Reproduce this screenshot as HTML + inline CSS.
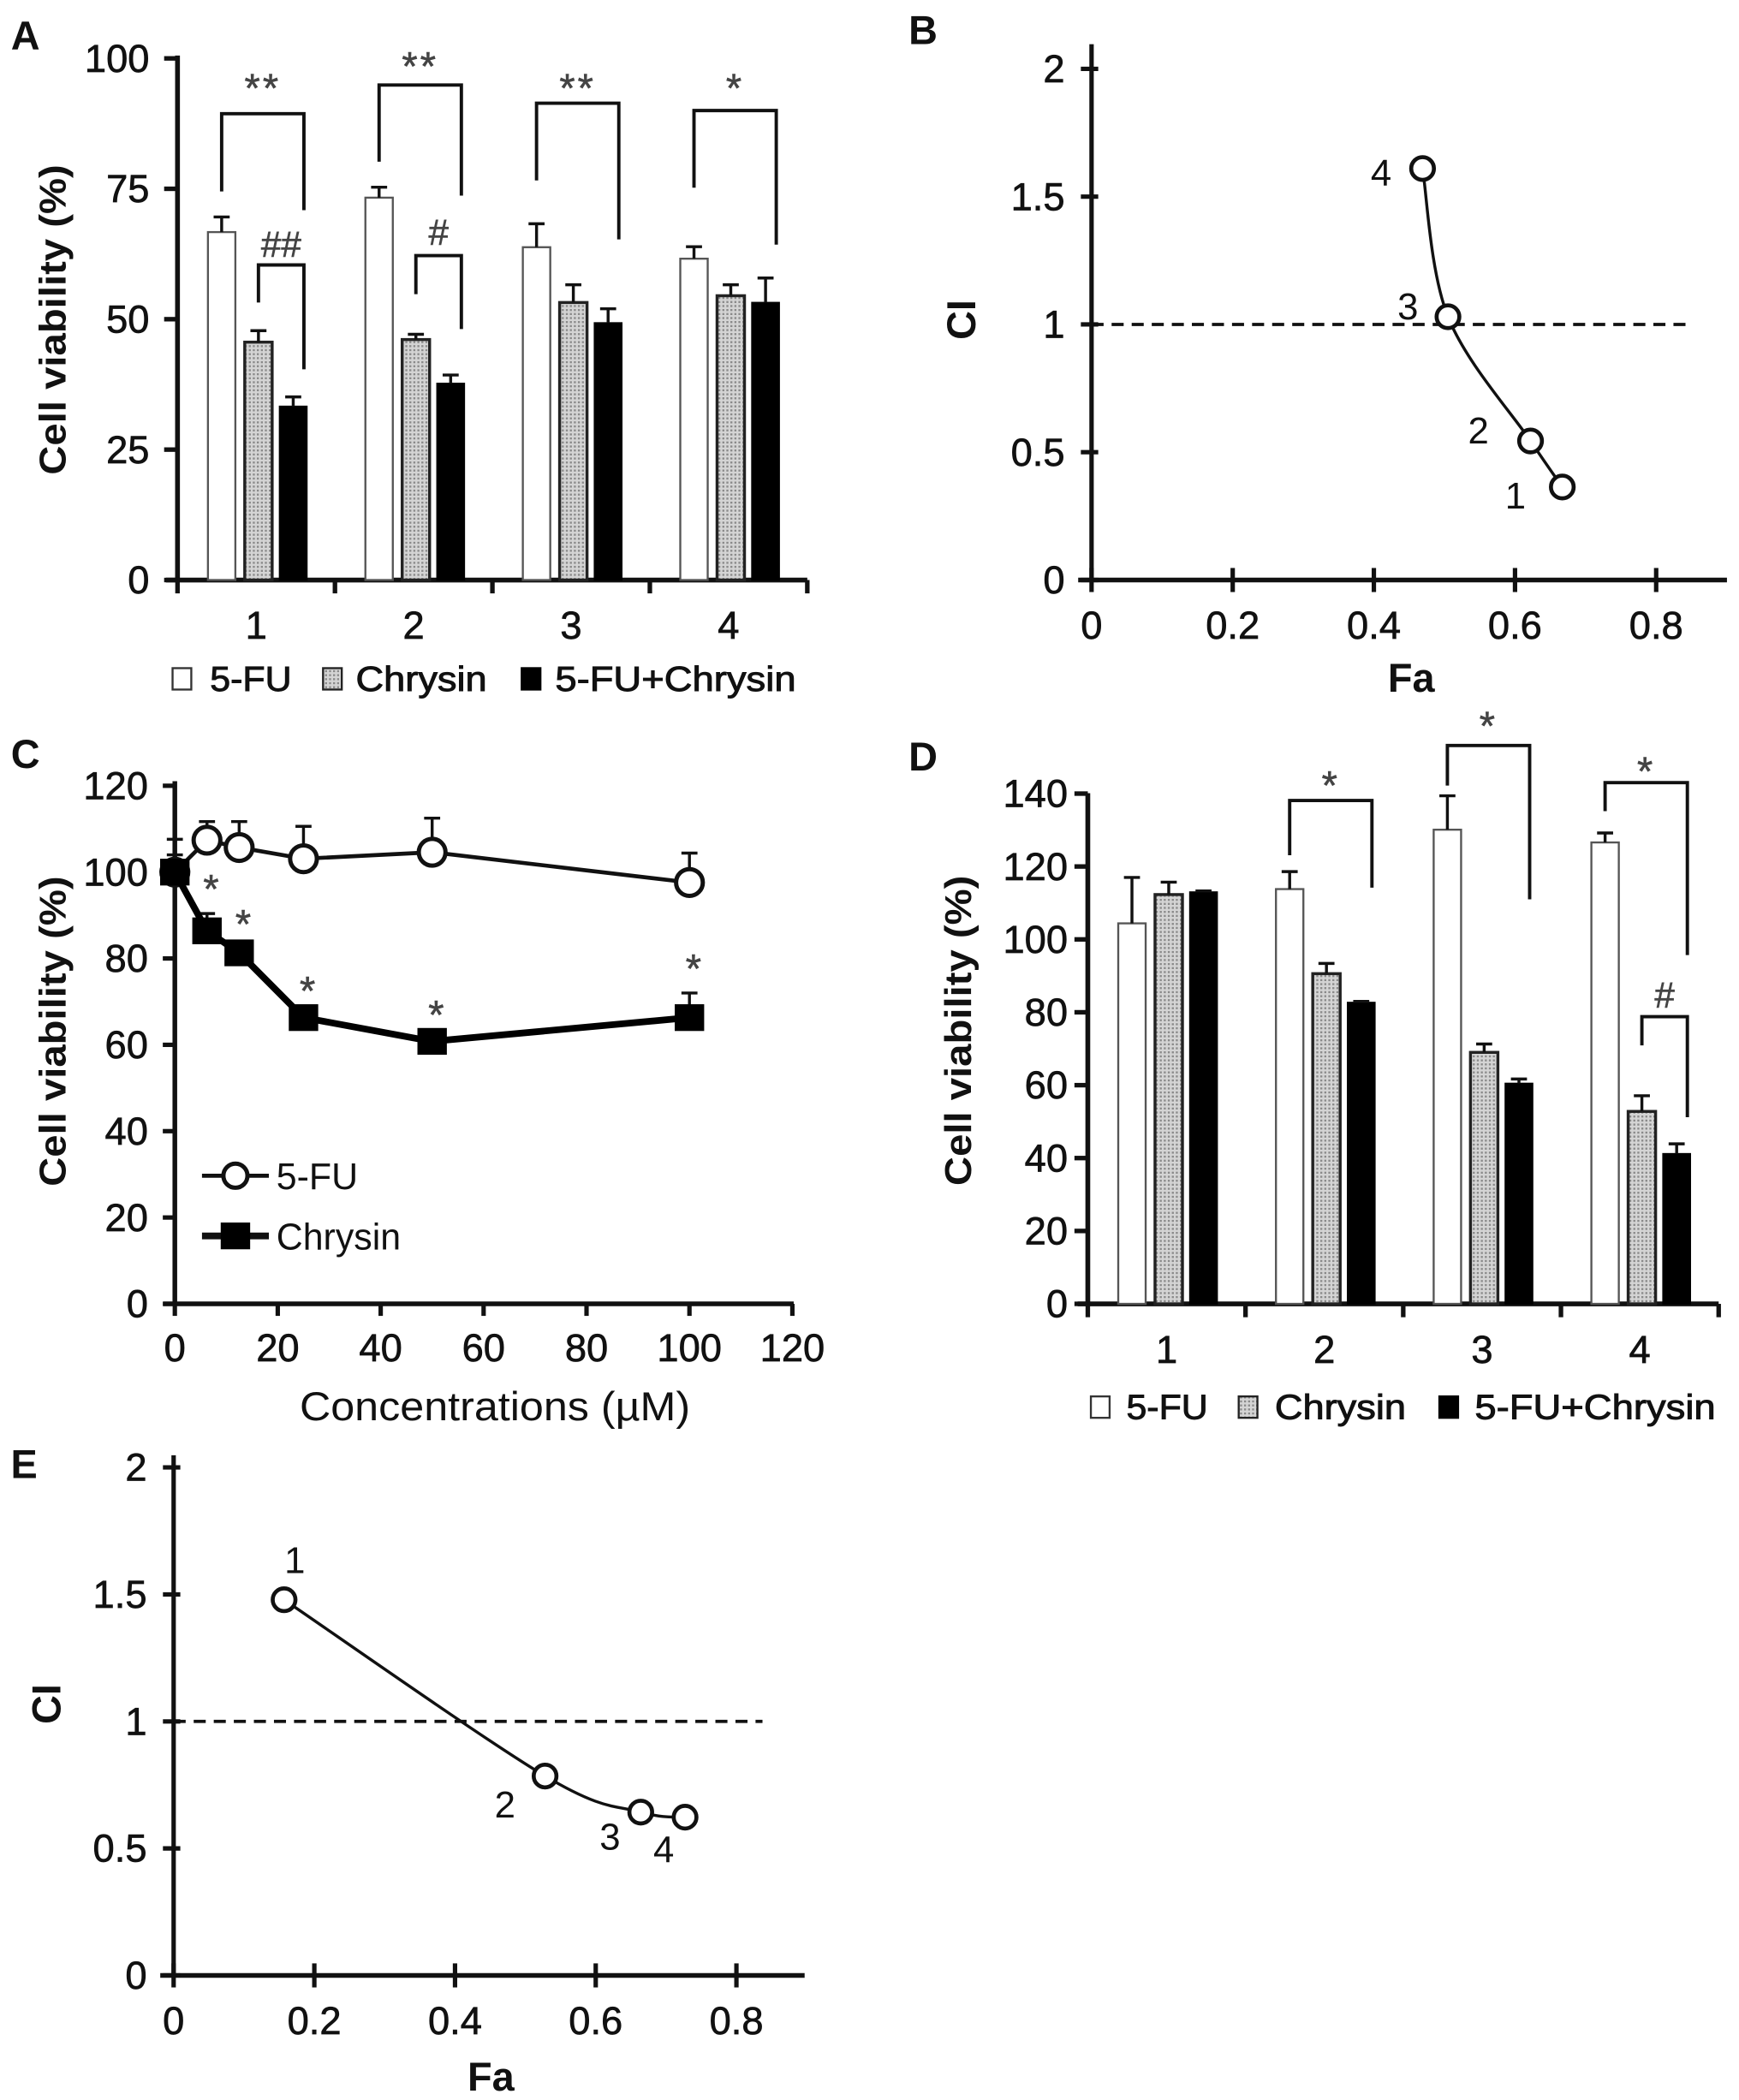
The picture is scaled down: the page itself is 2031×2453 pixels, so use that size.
<!DOCTYPE html>
<html><head><meta charset="utf-8">
<style>
html,body{margin:0;padding:0;background:#fff}
svg{display:block}
text{font-family:"Liberation Sans",Arial,sans-serif;fill:#111}
</style></head>
<body>
<svg id="fig" width="2031" height="2453" viewBox="0 0 1300 1570">
<defs>
<pattern id="dots" width="3" height="3" patternUnits="userSpaceOnUse"><rect width="3" height="3" fill="#d4d4d4"/><rect width="1.5" height="1.5" fill="#8a8a8a"/></pattern>
</defs>
</svg>
<script>
// ---------- Panel A data ----------
const A_groups=['1','2','3','4'];
const A_fu=[66.7,73.3,63.8,61.6];
const A_fu_err=[2.9,2.0,4.5,2.3];
const A_chr=[45.6,46.1,53.2,54.5];
const A_chr_err=[2.2,1.0,3.4,2.1];
const A_combo=[33.3,37.7,49.3,53.2];
const A_combo_err=[1.8,1.6,2.7,4.7];
const A_yticks=[0,25,50,75,100];
const A_br_group=[0,0,1,1,2,3];
const A_br_from=[0,1,0,1,0,0];
const A_br_top=[89.4,60.4,94.9,62.2,91.4,90];
const A_br_left=[74.5,53.2,80.2,54.8,76.6,75.2];
const A_br_right=[70.9,40.4,73.7,48.1,65.3,64.3];
const A_br_label=['**','##','**','#','**','*'];
const A_br_labelv=[96,64.5,100.2,66.8,96,96];

// ---------- Panel B data ----------
const B_fa=[0.667,0.622,0.505,0.469];
const B_ci=[0.364,0.544,1.03,1.61];
const B_pts=['1','2','3','4'];
const B_xticks=[0,0.2,0.4,0.6,0.8];
const B_yticks=[0,0.5,1,1.5,2];

// ---------- Panel C data ----------
const C_conc=[0,6.25,12.5,25,50,100];
const C_fu=[100,107.4,105.7,103.1,104.6,97.6];
const C_fu_err=[7.6,4.3,6,7.5,7.9,6.8];
const C_chr=[100,86.4,81.3,66.3,60.8,66.3];
const C_chr_err=[4,4,1,0.5,0.5,5.7];
const C_sig=[false,true,true,true,true,true];
const C_xticks=[0,20,40,60,80,100,120];
const C_yticks=[0,20,40,60,80,100,120];

// ---------- Panel D data ----------
const D_groups=['1','2','3','4'];
const D_fu=[104.4,113.8,130.1,126.6];
const D_fu_err=[12.6,4.8,9.3,2.6];
const D_chr=[112.3,90.6,69,52.8];
const D_chr_err=[3.4,2.8,2.3,4.3];
const D_combo=[113,82.7,60.5,41.2];
const D_combo_err=[0.3,0.3,1.2,2.7];
const D_yticks=[0,20,40,60,80,100,120,140];
const D_br_group=[1,2,3,3];
const D_br_from=[0,0,0,1];
const D_br_top=[138.1,153.2,143,78.8];
const D_br_left=[123.1,142.2,135.2,70.9];
const D_br_right=[114.2,111,95.7,51.2];
const D_br_label=['*','*','*','#'];
const D_br_labelv=[144.7,161,148.6,84.9];

// ---------- Panel E data ----------
const E_fa=[0.157,0.528,0.664,0.727];
const E_ci=[1.479,0.785,0.643,0.623];
const E_pts=['1','2','3','4'];
const E_xticks=[0,0.2,0.4,0.6,0.8];
const E_yticks=[0,0.5,1,1.5,2];

const TF=29;
const svg=document.getElementById('fig');
function mk(tag,attrs,parent){const e=document.createElementNS('http://www.w3.org/2000/svg',tag);for(const k in attrs)e.setAttribute(k,attrs[k]);(parent||svg).appendChild(e);return e;}
function line(p,x1,y1,x2,y2,w,extra){const a={x1:x1,y1:y1,x2:x2,y2:y2,stroke:'#111','stroke-width':w};if(extra)for(const k in extra)a[k]=extra[k];return mk('line',a,p);}
function txt(p,x,y,s,fs,anchor,extra){const a={x:x,y:y,'font-size':fs,'text-anchor':anchor||'middle'};if(extra)for(const k in extra)a[k]=extra[k];const e=mk('text',a,p);e.textContent=s;return e;}
function smooth(pts){let d='M'+pts[0][0]+','+pts[0][1];for(let i=0;i<pts.length-1;i++){const p0=pts[i-1]||pts[i],p1=pts[i],p2=pts[i+1],p3=pts[i+2]||p2;const c1x=p1[0]+(p2[0]-p0[0])/6,c1y=p1[1]+(p2[1]-p0[1])/6,c2x=p2[0]-(p3[0]-p1[0])/6,c2y=p2[1]-(p3[1]-p1[1])/6;d+=' C'+c1x+','+c1y+' '+c2x+','+c2y+' '+p2[0]+','+p2[1];}return d;}
const TS={stroke:'#111','stroke-width':0.45};

function panelLetter(p,x,y,s){const t=txt(p,x,y,s,30,'middle',{'font-weight':'bold'});

}

// ================= Bar panel =================
function barPanel(cfg){
  const g=mk('g',{});
  
  
  const X0=cfg.x0,Y0=cfg.y0,YS=cfg.ys,GW=cfg.gw;
  const Y=v=>Y0-v*YS;
  const offs=[33,60.5,86.5],BW=20.5;
  const BX=(gi,si)=>X0+gi*GW+offs[si];
  const ya=line(g,X0,cfg.yTop,X0,Y0+1.5,3.6);
  
  
  const xa=line(g,cfg.xStart,Y0,X0+4*GW,Y0,3.6);
  
  
  cfg.yticks.forEach(v=>{
    const t=line(g,X0-10,Y(v),X0,Y(v),3.4);
    
    
    const l=txt(g,X0-cfg.labGap,Y(v)+10,String(v),TF,'end',TS);
    
    
  });
  for(let i=0;i<=4;i++){
    const t=line(g,X0+i*GW,Y0,X0+i*GW,Y0+10,3.4);
    
    
  }
  cfg.groups.forEach((s,i)=>{
    const l=txt(g,X0+i*GW+GW/2,Y0+44,s,TF,'middle',TS);
    
    
  });
  const series=[[cfg.fu,cfg.fuErr,'#fff','#555',1.5,'5-fu'],[cfg.chr,cfg.chrErr,'url(#dots)','#222',2.2,'chrysin'],[cfg.combo,cfg.comboErr,'#000','#000',1,'combo']];
  series.forEach((sr,si)=>{
    sr[0].forEach((v,gi)=>{
      const cx=BX(gi,si);
      const r=mk('rect',{x:cx-BW/2,y:Y(v),width:BW,height:Y0-Y(v),fill:sr[2],stroke:sr[3],'stroke-width':sr[4]},g);
      
      
      const e=sr[1][gi];
      const el=line(g,cx,Y(v),cx,Y(v+e),2.2);
      
      
      const ec=line(g,cx-6,Y(v+e),cx+6,Y(v+e),2.2);
      
      
    });
  });
  cfg.brGroup.forEach((gi,k)=>{
    const lx=BX(gi,cfg.brFrom[k]),rx=BX(gi,2)+8;
    const b=mk('path',{d:'M'+lx+','+Y(cfg.brLeft[k])+' L'+lx+','+Y(cfg.brTop[k])+' L'+rx+','+Y(cfg.brTop[k])+' L'+rx+','+Y(cfg.brRight[k]),fill:'none',stroke:'#111','stroke-width':2.5},g);
    
    
    const isStar=cfg.brLabel[k].indexOf('*')>=0;
    const t=txt(g,(lx+rx)/2,Y(cfg.brLabelV[k])+(isStar?17:10),cfg.brLabel[k],isStar?30:27,'middle',{style:'fill:#444','letter-spacing':isStar?'2':'0',stroke:'#444','stroke-width':0.4});
    
    
  });
  const yt=txt(g,0,0,'Cell viability (%)',28,'middle',{transform:'translate('+cfg.yTitleX+','+cfg.yTitleY+') rotate(-90)',textLength:232,lengthAdjust:'spacingAndGlyphs','font-weight':'bold'});
  
  
  const L=cfg.leg;
  const boxes=[['#fff','#333','5-FU',L.t[0],61],['url(#dots)','#222','Chrysin',L.t[1],98],['#000','#000','5-FU+Chrysin',L.t[2],180]];
  boxes.forEach((bx,i)=>{
    const r=mk('rect',{x:L.b[i],y:L.y-8,width:14,height:16,fill:bx[0],stroke:bx[1],'stroke-width':1.5},g);
    
    
    const t=txt(g,bx[3],L.y+9,bx[2],26,'start',{textLength:bx[4],lengthAdjust:'spacingAndGlyphs','stroke':'#111','stroke-width':0.6});
    
    
  });
}

barPanel({name:'panel-a',x0:132.7,y0:433.6,ys:3.9,gw:117.7,yTop:41.5,xStart:124,labGap:21,
  groups:A_groups,fu:A_fu,fuErr:A_fu_err,chr:A_chr,chrErr:A_chr_err,combo:A_combo,comboErr:A_combo_err,yticks:A_yticks,
  brGroup:A_br_group,brFrom:A_br_from,brTop:A_br_top,brLeft:A_br_left,brRight:A_br_right,brLabel:A_br_label,brLabelV:A_br_labelv,
  yTitleX:49,yTitleY:239,leg:{y:507.5,b:[129,241.5,390],t:[157,266,415]}});
barPanel({name:'panel-d',x0:813.2,y0:974.8,ys:2.725,gw:117.9,yTop:593,xStart:805.6,labGap:15,
  groups:D_groups,fu:D_fu,fuErr:D_fu_err,chr:D_chr,chrErr:D_chr_err,combo:D_combo,comboErr:D_combo_err,yticks:D_yticks,
  brGroup:D_br_group,brFrom:D_br_from,brTop:D_br_top,brLeft:D_br_left,brRight:D_br_right,brLabel:D_br_label,brLabelV:D_br_labelv,
  yTitleX:726,yTitleY:770.5,leg:{y:1052,b:[815.5,926,1076],t:[842,953,1102.5]}});

// ================= CI panels =================
function ciPanel(cfg){
  const g=mk('g',{});
  
  
  const X=v=>cfg.x0+v*cfg.xs, Y=v=>cfg.y0-v*cfg.ys;
  const ya=line(g,cfg.x0,cfg.yTop,cfg.x0,cfg.y0+1.5,3.3);
  
  
  const xa=line(g,cfg.x0-10,cfg.y0,cfg.xEnd,cfg.y0,3.5);
  
  
  cfg.yticks.forEach(v=>{
    const t=line(g,cfg.x0-8,Y(v),cfg.x0+5,Y(v),3.3);
    
    
    const l=txt(g,cfg.x0-20,Y(v)+10,String(v),TF,'end',TS);
    
    
  });
  cfg.xticks.forEach(v=>{
    const t=line(g,X(v),cfg.y0-9,X(v),cfg.y0+9,3.3);
    
    
    const l=txt(g,X(v),cfg.y0+44,String(v),TF,'middle',TS);
    
    
  });
  const dl=line(g,cfg.x0,Y(1),cfg.dashEnd,Y(1),2.4,{'stroke-dasharray':'9 6'});
  
  
  const pts=cfg.fa.map((f,i)=>[X(f),Y(cfg.ci[i])]);
  const c=mk('path',{d:smooth(pts),fill:'none',stroke:'#111','stroke-width':2.2},g);
  
  
  pts.forEach((p,i)=>{
    const m=mk('circle',{cx:p[0],cy:p[1],r:8.5,fill:'#fff',stroke:'#111','stroke-width':3},g);
    
    
    const l=txt(g,p[0]+cfg.lo[i][0],p[1]+cfg.lo[i][1]+10,cfg.labels[i],28,'middle');
    
    
  });
  const ft=txt(g,cfg.faX,cfg.faY+11,'Fa',30,'middle',{'font-weight':'bold'});
  
  
  const ct=txt(g,0,0,'CI',30,'middle',{'font-weight':'bold',transform:'translate('+cfg.ciX+','+cfg.ciY+') rotate(-90)'});
  
  
}
ciPanel({name:'panel-b',x0:816,y0:433.6,xs:527.6,ys:191.1,yTop:33,xEnd:1291,dashEnd:1260,fa:B_fa,ci:B_ci,labels:B_pts,
  xticks:B_xticks,yticks:B_yticks,lo:[[-35,6],[-39,-8],[-30,-8],[-31,3]],faX:1055,faY:506,ciX:729,ciY:239});
ciPanel({name:'panel-e',x0:129.8,y0:1476.9,xs:525.9,ys:189.9,yTop:1088,xEnd:601.5,dashEnd:570,fa:E_fa,ci:E_ci,labels:E_pts,
  xticks:E_xticks,yticks:E_yticks,lo:[[8,-30],[-30,21],[-23,18],[-16,24]],faX:367,faY:1552,ciX:45,ciY:1274});

// ================= Panel C =================
(function(){
  const g=mk('g',{});
  
  
  const x0=130.7,y0=974.8,xs=3.847,ys=3.228;
  const X=v=>x0+v*xs,Y=v=>y0-v*ys;
  const ya=line(g,x0,584,x0,y0+1.5,3.5);
  
  
  const xa=line(g,122,y0,X(120)+1,y0,3.5);
  
  
  C_yticks.forEach(v=>{
    const t=line(g,x0-9,Y(v),x0,Y(v),3.3);
    
    
    const l=txt(g,x0-20,Y(v)+10,String(v),TF,'end',TS);
    
    
  });
  C_xticks.forEach(v=>{
    const t=line(g,X(v),y0,X(v),y0+9,3.3);
    
    
    const l=txt(g,X(v),y0+43,String(v),TF,'middle',TS);
    
    
  });
  function err(vals,errs,nm){vals.forEach((v,i)=>{const x=X(C_conc[i]);
    const e=line(g,x,Y(v),x,Y(v+errs[i]),2.2);
    
    
    const c=line(g,x-6,Y(v+errs[i]),x+6,Y(v+errs[i]),2.2);
    
    });}
  err(C_fu,C_fu_err,'fu');
  err(C_chr,C_chr_err,'chrysin');
  const fl=mk('polyline',{points:C_conc.map((c,i)=>X(c)+','+Y(C_fu[i])).join(' '),fill:'none',stroke:'#111','stroke-width':3},g);
  
  
  C_conc.forEach((c,i)=>{
    const m=mk('circle',{cx:X(c),cy:Y(C_fu[i]),r:10,fill:'#fff',stroke:'#111','stroke-width':3.2},g);
    
    
  });
  const cl=mk('polyline',{points:C_conc.map((c,i)=>X(c)+','+Y(C_chr[i])).join(' '),fill:'none',stroke:'#000','stroke-width':5},g);
  
  
  C_conc.forEach((c,i)=>{
    const m=mk('rect',{x:X(c)-11,y:Y(C_chr[i])-10,width:22,height:20,fill:'#000'},g);
    
    
    if(C_sig[i]){
      const s=txt(g,X(c)+3,Y(C_chr[i]+C_chr_err[i])-8,'*',30,'middle',{style:'fill:#444',stroke:'#444','stroke-width':0.4});
      
      
    }
  });
  const l1=line(g,151,879,201,879,3);
  
  
  const m1=mk('circle',{cx:176,cy:879,r:9,fill:'#fff',stroke:'#111','stroke-width':3.2},g);
  
  
  const t1=txt(g,206.6,889,'5-FU',28,'start',{textLength:61,lengthAdjust:'spacingAndGlyphs'});
  
  
  const l2=line(g,151,924,201,924,5);
  
  
  const m2=mk('rect',{x:165,y:914,width:22,height:20,fill:'#000'},g);
  
  
  const t2=txt(g,206.6,934,'Chrysin',28,'start',{textLength:93,lengthAdjust:'spacingAndGlyphs'});
  
  
  const xt=txt(g,370,1062,'Concentrations (\u00b5M)',30,'middle',{textLength:292,lengthAdjust:'spacingAndGlyphs'});
  
  
  const yt=txt(g,0,0,'Cell viability (%)',28,'middle',{transform:'translate(49,771) rotate(-90)',textLength:232,lengthAdjust:'spacingAndGlyphs','font-weight':'bold'});
  
  
})();

panelLetter(svg,19,37,'A');
panelLetter(svg,690,33,'B');
panelLetter(svg,19,574,'C');
panelLetter(svg,690,576,'D');
panelLetter(svg,18,1105,'E');
</script>
</body></html>
